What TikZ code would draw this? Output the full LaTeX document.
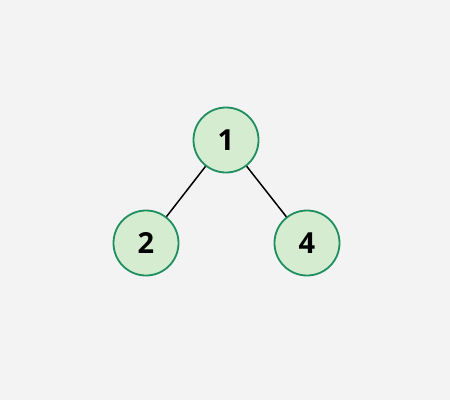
\documentclass[tikz,border=0pt]{standalone}
\usepackage{fontspec}
\setmainfont{Open Sans}
\definecolor{bgcol}{HTML}{F3F3F3}
\definecolor{nodefill}{HTML}{D5ECD1}
\definecolor{nodeline}{HTML}{1F8F5F}

\begin{document}
\begin{tikzpicture}[x=1pt,y=-1pt,
	treenode/.style={circle, draw=nodeline, fill=nodefill, line width=1.8pt,
		minimum size=65pt, inner sep=0pt, font=\fontsize{29}{32}\selectfont\bfseries}]
	\fill[bgcol] (0,0) rectangle (450,400);
	\useasboundingbox (0,0) rectangle (450,400);
	\node[treenode] (n1) at (226,140) {1};
	\node[treenode] (n2) at (146,243) {2};
	\node[treenode] (n4) at (307,243) {4};
	\draw[line width=1.5pt] (n1) -- (n2);
	\draw[line width=1.5pt] (n1) -- (n4);
\end{tikzpicture}
\end{document}
